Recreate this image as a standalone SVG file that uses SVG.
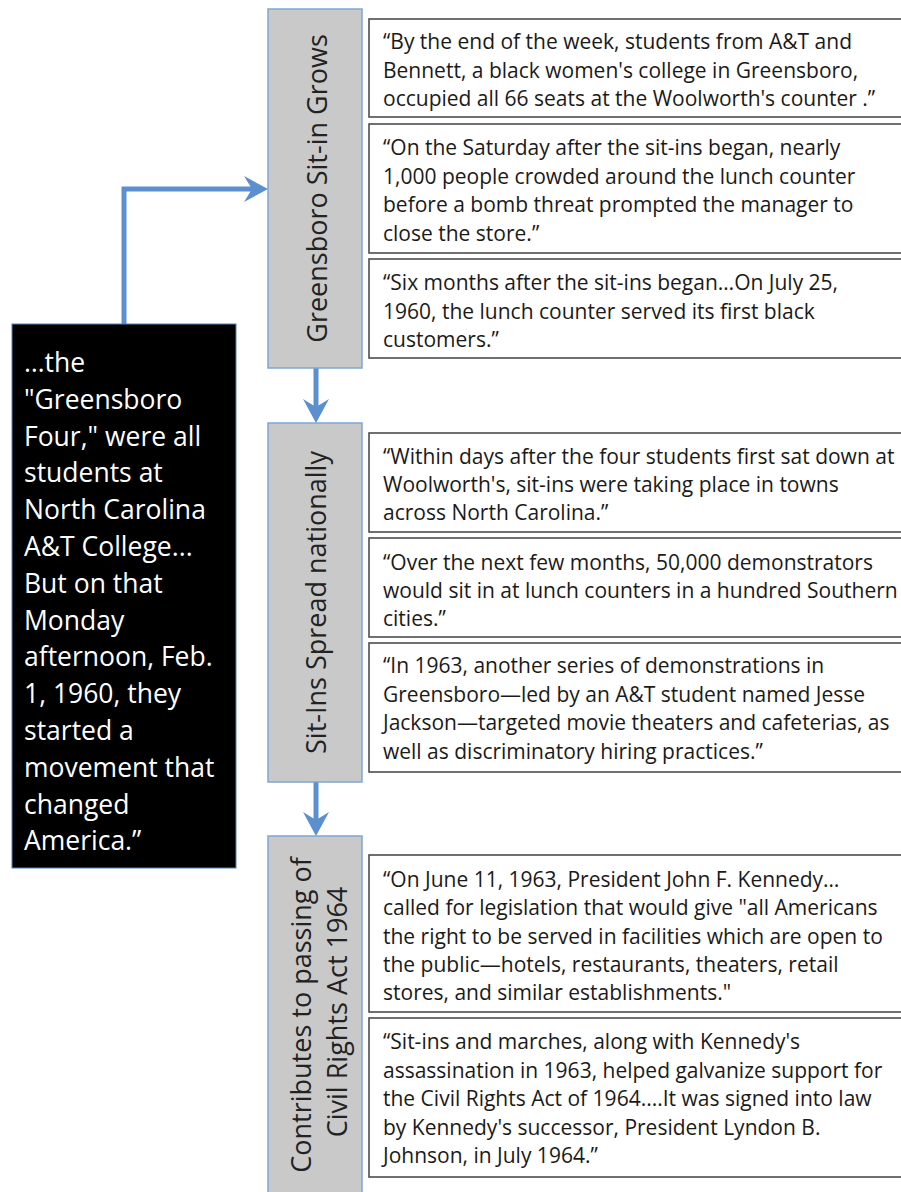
<svg xmlns="http://www.w3.org/2000/svg" width="901" height="1192" viewBox="0 0 901 1192">
<style>
.bg{fill:#ffffff}
.cat{fill:#c9c9c9;stroke:#7fa6d4;stroke-width:1.5}
.quote{fill:#ffffff;stroke:#4d4d4d;stroke-width:1.6}
.qt{font-family:"Open Sans","Liberation Sans",sans-serif;font-size:21px;fill:#1a1a1a}
.lbl{font-family:"Open Sans","Liberation Sans",sans-serif;font-size:27px;fill:#222222;text-anchor:middle}
.main{fill:#000000;stroke:#4f81bd;stroke-width:1}
.mt{font-family:"Open Sans","Liberation Sans",sans-serif;font-size:26.5px;fill:#ffffff}
.conn{fill:none;stroke:#5b8fcf;stroke-width:5}
</style>
<defs>
<marker id="arr" viewBox="0 0 24 26" refX="8" refY="13" markerWidth="24" markerHeight="26" markerUnits="userSpaceOnUse" orient="auto">
<path d="M0,0 L24,13 L0,26 L8,13 z" fill="#5b8fcf"/>
</marker>
</defs>
<rect class="bg" x="0" y="0" width="901" height="1192"/>

<g id="connectors">
<path class="conn" d="M124,324 V189 H252" marker-end="url(#arr)"/>
<path class="conn" d="M316,368 V407" marker-end="url(#arr)"/>
<path class="conn" d="M316,782 V820" marker-end="url(#arr)"/>
</g>

<g id="main-quote">
<rect class="main" x="12" y="324" width="224" height="544"/>
<text class="mt" x="24" y="372">…the</text>
<text class="mt" x="24" y="408.8">"Greensboro</text>
<text class="mt" x="24" y="445.6">Four," were all</text>
<text class="mt" x="24" y="482.4">students at</text>
<text class="mt" x="24" y="519.2">North Carolina</text>
<text class="mt" x="24" y="556">A&amp;T College...</text>
<text class="mt" x="24" y="592.8">But on that</text>
<text class="mt" x="24" y="629.6">Monday</text>
<text class="mt" x="24" y="666.4">afternoon, Feb.</text>
<text class="mt" x="24" y="703.2">1, 1960, they</text>
<text class="mt" x="24" y="740">started a</text>
<text class="mt" x="24" y="776.8">movement that</text>
<text class="mt" x="24" y="813.6">changed</text>
<text class="mt" x="24" y="850.4">America.”</text>
</g>

<g id="cat-greensboro">
<rect class="cat" x="268" y="9" width="94" height="359"/>
<text class="lbl" transform="translate(327,188.5) rotate(-90)">Greensboro Sit-in Grows</text>
</g>

<g id="cat-spread">
<rect class="cat" x="268" y="423" width="94" height="359"/>
<text class="lbl" transform="translate(326,602.5) rotate(-90)">Sit-Ins Spread nationally</text>
</g>

<g id="cat-civilrights">
<rect class="cat" x="268" y="836" width="94" height="366"/>
<text class="lbl" transform="translate(311,1015) rotate(-90)">Contributes to passing of</text>
<text class="lbl" transform="translate(347,1012) rotate(-90)">Civil Rights Act 1964</text>
</g>

<g id="q1">
<rect class="quote" x="369" y="19" width="545" height="98"/>
<text class="qt" x="383" y="49">“By the end of the week, students from A&amp;T and</text>
<text class="qt" x="383" y="77.5">Bennett, a black women's college in Greensboro,</text>
<text class="qt" x="383" y="106">occupied all 66 seats at the Woolworth's counter .”</text>
</g>

<g id="q2">
<rect class="quote" x="369" y="124" width="545" height="129"/>
<text class="qt" x="383" y="155">“On the Saturday after the sit-ins began, nearly</text>
<text class="qt" x="383" y="183.5">1,000 people crowded around the lunch counter</text>
<text class="qt" x="383" y="212">before a bomb threat prompted the manager to</text>
<text class="qt" x="383" y="240.5">close the store.”</text>
</g>

<g id="q3">
<rect class="quote" x="369" y="259" width="545" height="99"/>
<text class="qt" x="383" y="290">“Six months after the sit-ins began…On July 25,</text>
<text class="qt" x="383" y="318.5">1960, the lunch counter served its first black</text>
<text class="qt" x="383" y="347">customers.”</text>
</g>

<g id="q4">
<rect class="quote" x="369" y="433" width="545" height="99"/>
<text class="qt" x="383" y="464">“Within days after the four students first sat down at</text>
<text class="qt" x="383" y="492">Woolworth's, sit-ins were taking place in towns</text>
<text class="qt" x="383" y="520">across North Carolina.”</text>
</g>

<g id="q5">
<rect class="quote" x="369" y="538" width="545" height="99"/>
<text class="qt" x="383" y="570">“Over the next few months, 50,000 demonstrators</text>
<text class="qt" x="383" y="598">would sit in at lunch counters in a hundred Southern</text>
<text class="qt" x="383" y="626">cities.”</text>
</g>

<g id="q6">
<rect class="quote" x="369" y="643" width="545" height="129"/>
<text class="qt" x="383" y="673">“In 1963, another series of demonstrations in</text>
<text class="qt" x="383" y="701.5">Greensboro—led by an A&amp;T student named Jesse</text>
<text class="qt" x="383" y="730">Jackson—targeted movie theaters and cafeterias, as</text>
<text class="qt" x="383" y="758.5">well as discriminatory hiring practices.”</text>
</g>

<g id="q7">
<rect class="quote" x="369" y="855" width="545" height="157"/>
<text class="qt" x="383" y="887">“On June 11, 1963, President John F. Kennedy…</text>
<text class="qt" x="383" y="915.3">called for legislation that would give "all Americans</text>
<text class="qt" x="383" y="943.6">the right to be served in facilities which are open to</text>
<text class="qt" x="383" y="971.9">the public—hotels, restaurants, theaters, retail</text>
<text class="qt" x="383" y="1000.2">stores, and similar establishments."</text>
</g>

<g id="q8">
<rect class="quote" x="369" y="1018" width="545" height="159"/>
<text class="qt" x="383" y="1049">“Sit-ins and marches, along with Kennedy's</text>
<text class="qt" x="383" y="1077.5">assassination in 1963, helped galvanize support for</text>
<text class="qt" x="383" y="1106">the Civil Rights Act of 1964....It was signed into law</text>
<text class="qt" x="383" y="1134.5">by Kennedy's successor, President Lyndon B.</text>
<text class="qt" x="383" y="1163">Johnson, in July 1964.”</text>
</g>
</svg>
